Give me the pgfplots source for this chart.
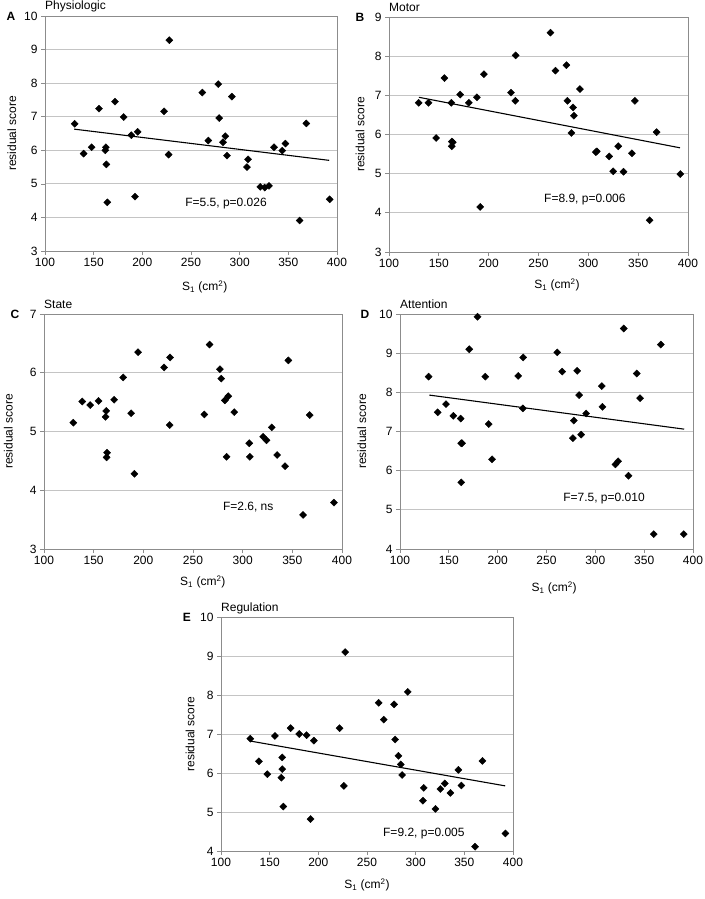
\documentclass[border=0pt]{standalone}
\usepackage{fontspec}
\setmainfont{Liberation Sans}
\usepackage{pgfplots}
\pgfplotsset{compat=1.18}
\definecolor{framegray}{HTML}{8C8C8C}
\definecolor{gridgray}{HTML}{C4C4C4}
\newcommand{\fs}{\fontsize{12}{14}\selectfont}
\pgfplotsset{
  panel/.style={
    scale only axis,
    clip=false,
    xmin=100, xmax=400,
    xtick={100,150,...,400},
    axis line style={framegray, line width=0.7pt},
    ymajorgrids,
    grid style={gridgray, line width=0.8pt},
    tick style={framegray, line width=0.7pt},
    tick align=outside,
    major tick length=4pt,
    xtick pos=bottom, ytick pos=left,
    ticklabel style={font=\fs},
    /pgf/number format/assume math mode=true,
    label style={font=\fs},
    xlabel={S\textsubscript{1} (cm\textsuperscript{2})},
    ylabel={residual score},
  },
  dots/.style={only marks, mark=square*, mark size=2.5pt,
    mark options={rotate=45, fill=black, draw=black}, black},
  fit/.style={black, line width=1.1pt, no marks},
}
\begin{document}
\begin{tikzpicture}
\useasboundingbox (0,0) rectangle (704pt,-899pt);
% ---------------- A
\begin{axis}[panel, at={(45pt,-16pt)}, anchor=north west,
  width=292pt, height=235pt, ymin=3, ymax=10, ytick={3,...,10},
  ylabel style={at={(axis description cs:-0.114,0.5)}, anchor=center},
  xlabel style={at={(axis description cs:0.547,-0.153)}, anchor=center}]
\addplot[dots] table {
130.5 6.79
139.7 5.90
147.9 6.09
155.5 7.24
162.5 6.09
162.0 6.00
163.0 5.58
164.0 4.45
171.9 7.45
180.8 6.99
188.7 6.45
192.5 4.62
195.2 6.55
222.3 7.16
227.7 9.28
227.0 5.87
261.6 7.72
267.8 6.29
278.0 7.97
279.0 6.96
282.9 6.24
285.3 6.42
287.0 5.84
292.0 7.60
307.5 5.50
308.6 5.73
321.2 4.91
325.7 4.89
330.1 4.94
335.3 6.09
343.8 5.99
347.0 6.20
361.6 3.91
368.5 6.80
392.5 4.54
};
\addplot[fit] coordinates {(130,6.63) (392,5.70)};
\node[anchor=west, font=\fs, inner sep=0pt] at (axis cs:244,4.4) {F=5.5, p=0.026};
\node[anchor=base west, font=\fs, inner sep=0pt] at ([yshift=6pt]rel axis cs:0,1) {Physiologic};
\node[anchor=center, font=\fs\bfseries] at ([xshift=-34pt]rel axis cs:0,1) {A};
\end{axis}
% ---------------- B
\begin{axis}[panel, at={(389pt,-17pt)}, anchor=north west,
  width=299pt, height=235pt, ymin=3, ymax=9, ytick={3,...,9},
  ylabel style={at={(axis description cs:-0.097,0.5)}, anchor=center},
  xlabel style={at={(axis description cs:0.562,-0.14)}, anchor=center}]
\addplot[dots] table {
129.8 6.81
139.6 6.81
147.3 5.91
155.6 7.44
162.5 6.81
163.0 5.82
164.0 5.80
163.0 5.70
171.4 7.02
180.1 6.81
188.2 6.95
191.5 4.15
195.2 7.54
222.4 7.07
227.1 8.02
226.7 6.86
262.0 8.60
267.0 7.63
278.0 7.77
279.0 6.86
283.0 6.04
284.7 6.69
285.5 6.48
291.6 7.16
307.5 5.55
308.5 5.57
320.9 5.44
324.9 5.06
330.0 5.70
335.3 5.05
343.7 5.52
346.7 6.86
361.5 3.81
368.5 6.06
392.3 4.99
};
\addplot[fit] coordinates {(130,6.95) (392,5.66)};
\node[anchor=west, font=\fs, inner sep=0pt] at (axis cs:255.5,4.35) {F=8.9, p=0.006};
\node[anchor=base west, font=\fs, inner sep=0pt] at ([yshift=6pt]rel axis cs:0,1) {Motor};
\node[anchor=center, font=\fs\bfseries] at ([xshift=-29pt]rel axis cs:0,1) {B};
\end{axis}
% ---------------- C
\begin{axis}[panel, at={(44pt,-314pt)}, anchor=north west,
  width=298pt, height=235pt, ymin=3, ymax=7, ytick={3,...,7},
  ylabel style={at={(axis description cs:-0.12,0.5)}, anchor=center},
  xlabel style={at={(axis description cs:0.533,-0.14)}, anchor=center}]
\addplot[dots] table {
129.5 5.15
138.5 5.51
146.5 5.45
154.9 5.52
162.6 5.35
162.0 5.25
163.5 4.64
163.0 4.56
170.6 5.54
179.7 5.92
187.7 5.31
191.0 4.28
194.7 6.35
220.9 6.09
226.9 6.26
226.5 5.11
261.4 5.29
266.7 6.48
277.1 6.06
278.4 5.90
282.1 5.53
285.5 5.60
283.8 4.57
291.5 5.33
306.6 4.80
307.2 4.57
320.6 4.91
324.0 4.85
329.3 5.07
334.7 4.60
342.7 4.41
346.0 6.21
360.8 3.58
367.5 5.28
391.9 3.79
};
\node[anchor=west, font=\fs, inner sep=0pt] at (axis cs:280,3.71) {F=2.6, ns};
\node[anchor=base west, font=\fs, inner sep=0pt] at ([yshift=6pt]rel axis cs:0,1) {State};
\node[anchor=center, font=\fs\bfseries] at ([xshift=-29pt]rel axis cs:0,1) {C};
\end{axis}
% ---------------- D
\begin{axis}[panel, at={(400pt,-314pt)}, anchor=north west,
  width=293pt, height=235pt, ymin=4, ymax=10, ytick={4,...,10},
  ylabel style={at={(axis description cs:-0.13,0.5)}, anchor=center},
  xlabel style={at={(axis description cs:0.526,-0.166)}, anchor=center}]
\addplot[dots] table {
129.3 8.40
138.6 7.49
147.1 7.70
154.6 7.40
162.1 7.33
162.7 6.70
163.5 6.70
162.7 5.70
170.9 9.10
179.4 9.93
187.3 8.40
190.8 7.19
194.2 6.29
221.0 8.42
226.1 8.89
225.8 7.59
261.0 9.02
266.1 8.53
277.0 6.83
278.0 7.28
281.4 8.55
283.4 7.93
285.5 6.92
290.6 7.46
306.6 8.16
307.3 7.63
320.6 6.16
323.3 6.24
329.1 9.63
333.9 5.87
342.4 8.48
345.8 7.85
359.8 4.38
367.0 9.22
390.5 4.38
};
\addplot[fit] coordinates {(130,7.93) (391,7.06)};
\node[anchor=west, font=\fs, inner sep=0pt] at (axis cs:267,5.30) {F=7.5, p=0.010};
\node[anchor=base west, font=\fs, inner sep=0pt] at ([yshift=6pt]rel axis cs:0,1) {Attention};
\node[anchor=center, font=\fs\bfseries] at ([xshift=-35pt]rel axis cs:0,1) {D};
\end{axis}
% ---------------- E
\begin{axis}[panel, at={(221pt,-617pt)}, anchor=north west,
  width=292pt, height=234pt, ymin=4, ymax=10, ytick={4,...,10},
  ylabel style={at={(axis description cs:-0.106,0.5)}, anchor=center},
  xlabel style={at={(axis description cs:0.5,-0.145)}, anchor=center}]
\addplot[dots] table {
130.1 6.88
139.0 6.30
147.6 5.97
155.4 6.95
162.9 6.40
162.9 6.10
162.0 5.88
164.0 5.14
171.5 7.15
180.4 7.00
187.9 6.97
192.0 4.82
195.4 6.83
221.8 7.15
227.6 9.10
226.2 5.67
262.0 7.80
267.2 7.37
277.8 7.76
278.9 6.86
282.3 6.44
284.7 6.22
286.1 5.95
291.9 8.08
307.5 5.29
308.3 5.62
320.3 5.08
325.4 5.59
329.9 5.73
335.7 5.49
343.9 6.08
347.0 5.68
361.0 4.11
368.6 6.31
392.2 4.45
};
\addplot[fit] coordinates {(130,6.82) (392,5.67)};
\node[anchor=west, font=\fs, inner sep=0pt] at (axis cs:266.4,4.46) {F=9.2, p=0.005};
\node[anchor=base west, font=\fs, inner sep=0pt] at ([yshift=6pt]rel axis cs:0,1) {Regulation};
\node[anchor=center, font=\fs\bfseries] at ([xshift=-34pt]rel axis cs:0,1) {E};
\end{axis}
\end{tikzpicture}
\end{document}
